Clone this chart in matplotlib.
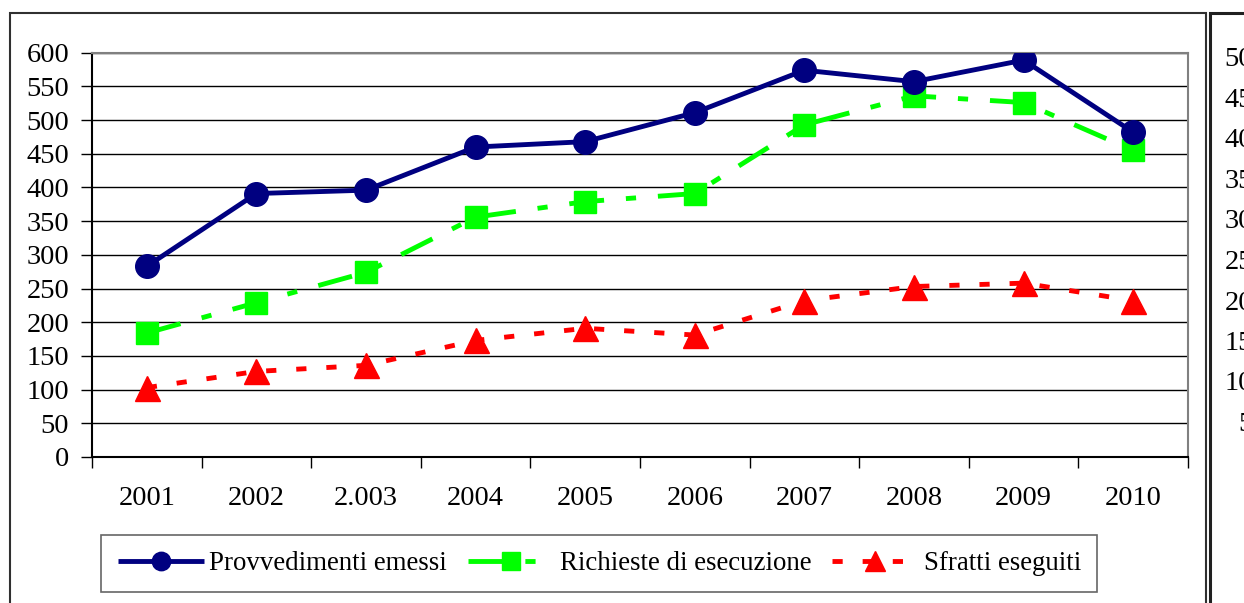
import matplotlib
matplotlib.use("Agg")
import matplotlib.pyplot as plt
from matplotlib.patches import Rectangle

years = ["2001", "2002", "2.003", "2004", "2005", "2006", "2007", "2008", "2009", "2010"]
provvedimenti = [283, 391, 396, 460, 468, 511, 574, 557, 589, 482]
richieste = [184, 229, 274, 356, 379, 391, 493, 536, 526, 455]
sfratti = [103, 127, 136, 173, 191, 181, 232, 253, 258, 232]
y_ticks = list(range(0, 601, 50))
side_labels = ["500", "450", "400", "350", "300", "250", "200", "150", "100", "50"]

plt.rcParams['font.family'] = ['Liberation Serif', 'DejaVu Serif']
FS = 20.5
LFS = 19.4

W, H = 1244, 603
fig = plt.figure(figsize=(W / 100, H / 100), dpi=100)
ax = fig.add_axes([92 / W, 1 - 457 / H, (1188 - 92) / W, (457 - 52.7) / H])

x = list(range(len(years)))
lw = 3.5
ax.plot(x, provvedimenti, color='#000080', lw=lw, marker='o', ms=17,
        label='Provvedimenti emessi', zorder=5, solid_capstyle='butt')
ax.plot(x, richieste, color='#00FF00', lw=lw, marker='s', ms=16.5,
        linestyle=(0, (7.2, 4.5, 2.1, 4.5)), dash_capstyle='butt',
        label='Richieste di esecuzione', zorder=4)
ax.plot(x, sfratti, color='#FF0000', lw=lw, marker='^', ms=18,
        linestyle=(0, (2.1, 4.1)), dash_capstyle='butt',
        label='Sfratti eseguiti', zorder=3)

ax.set_xlim(-0.5, 9.5)
ax.set_ylim(0, 600)
ax.set_yticks(y_ticks)
ax.set_yticklabels([str(v) for v in y_ticks])
ax.yaxis.grid(True, color='black', lw=1.0)
ax.set_axisbelow(True)

ax.set_xticks([i - 0.5 for i in range(len(years) + 1)])
ax.set_xticklabels([])
ax.set_xticks(x, minor=True)
ax.set_xticklabels(years, minor=True)
ax.tick_params(axis='x', which='major', length=8, width=1, direction='out')
ax.tick_params(axis='x', which='minor', length=0, pad=21, labelsize=FS)
ax.tick_params(axis='y', which='major', length=8, width=1, direction='out', pad=8.5, labelsize=FS)

for s in ['left', 'bottom']:
    ax.spines[s].set_color('black')
    ax.spines[s].set_linewidth(1.5)
for s in ['top', 'right']:
    ax.spines[s].set_color('#808080')
    ax.spines[s].set_linewidth(1.5)

leg = fig.legend(loc='center', bbox_to_anchor=(599.2 / W, 1 - 563.7 / H), ncol=3,
                 fontsize=LFS, frameon=True, fancybox=False, edgecolor='#404040',
                 handlelength=3.2, handletextpad=0.2, columnspacing=0.78,
                 numpoints=1, markerscale=0.78, borderpad=0.6, borderaxespad=0)
leg.get_frame().set_linewidth(1.2)

# chart frame
fig.add_artist(Rectangle((10 / W, -0.2), (1206 - 10) / W, (1 - 13 / H) + 0.2,
                         transform=fig.transFigure, fill=False, edgecolor='#303030', lw=1.5))
# neighbouring chart frame (partially visible in the reference)
fig.add_artist(Rectangle((1209.5 / W, -0.2), 0.2, (1 - 13 / H) + 0.2,
                         transform=fig.transFigure, fill=False, edgecolor='#202020', lw=2.2))
for i, lab in enumerate(side_labels):
    yy = 60 + i * 40.5
    fig.text(1267 / W, 1 - yy / H, lab, ha='right', va='center', fontsize=FS)

fig.savefig('out.png', dpi=100)
